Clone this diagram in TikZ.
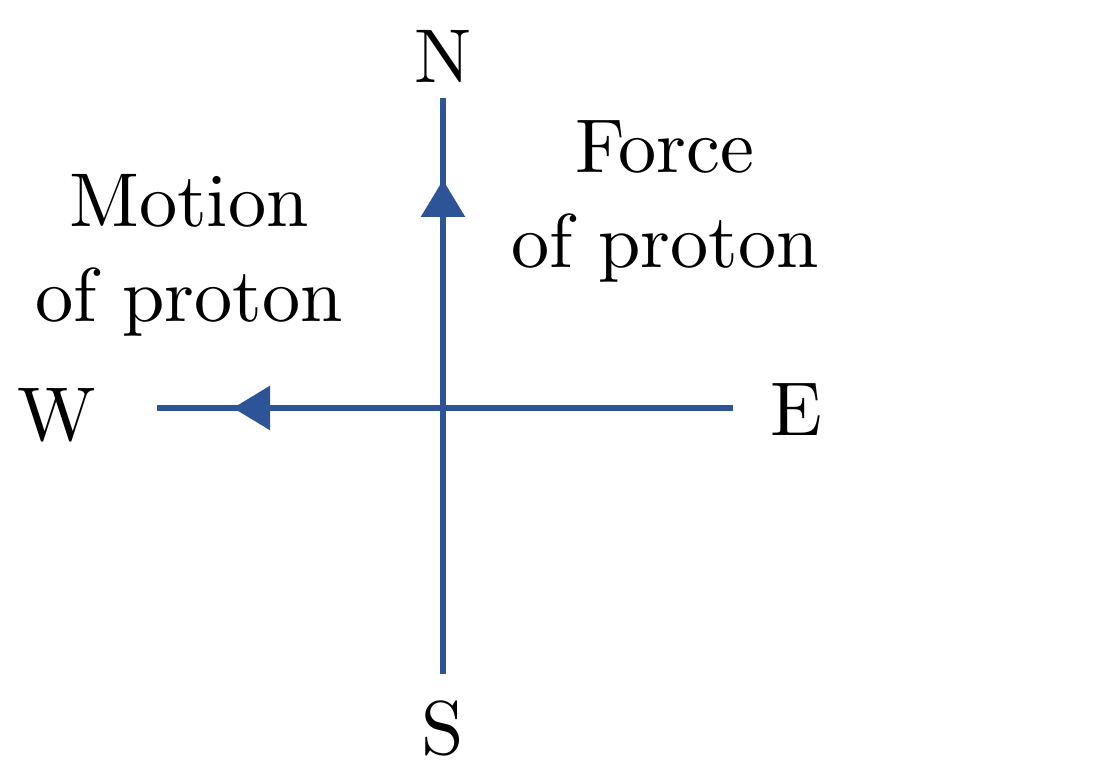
\documentclass[tikz,border=0pt]{standalone}
\usepackage{fontspec}
\setmainfont{lmroman10-regular.otf}
\usetikzlibrary{arrows.meta}
\definecolor{axisblue}{RGB}{46,84,152}
\tikzset{
  axis/.style={draw=axisblue,line width=1.7pt},
  headarrow/.style={draw=axisblue,line width=1.7pt,-{Triangle[length=0.37cm,width=0.43cm]}},
  lbl/.style={font=\fontsize{21.7}{27}\selectfont,align=center,inner sep=0pt}
}
\begin{document}
\begin{tikzpicture}
\useasboundingbox (0,0) rectangle (10.93,7.69);
\coordinate (o) at (4.43,3.61);
\coordinate (n end) at (4.43,6.71);
\coordinate (s end) at (4.43,0.95);
\coordinate (w end) at (1.57,3.61);
\coordinate (e end) at (7.33,3.61);
\coordinate (up tip) at (4.43,5.89);
\coordinate (left tip) at (2.33,3.61);
\node[lbl] (n) at (4.43,7.125) {N};
\node[lbl] (s) at (4.43,0.41) {S};
\node[lbl] (w) at (0.57,3.54) {W};
\node[lbl] (e) at (7.96,3.59) {E};
\node[lbl] (motion) at (1.89,5.14) {Motion\\of proton};
\node[lbl] (force) at (6.65,5.675) {Force\\of proton};
\draw[axis] (s end) -- (n end);
\draw[axis] (w end) -- (e end);
\draw[headarrow] (o) -- (up tip);
\draw[headarrow] (o) -- (left tip);
\end{tikzpicture}
\end{document}
